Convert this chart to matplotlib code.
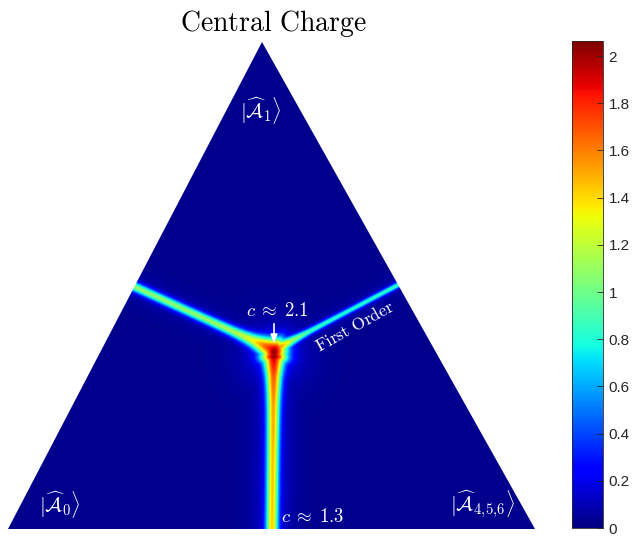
import numpy as np
import matplotlib
matplotlib.use("Agg")
import matplotlib.pyplot as plt
from matplotlib.patches import Polygon

plt.rcParams['mathtext.fontset'] = 'cm'

# triangle corners, normalized (x along base, y up to the apex)
corner_x = [0.0, 1.0, 0.482]
corner_y = [0.0, 0.0, 1.0]

# phase boundary arms: start point (near the junction) and end point on the edge
arm_start_x = [0.5047, 0.5047, 0.5047]
arm_start_y = [0.3676, 0.3676, 0.3634]
arm_end_x = [0.241, 0.740, 0.501]
arm_end_y = [0.497, 0.501, 0.0]

# peak value of c read along each arm, t = 0 at junction, t = 1 at edge
arm_t = [0.0, 0.05, 0.15, 0.3, 0.6, 1.0]
left_peak = [1.8, 1.55, 1.2, 1.05, 1.0, 1.0]
right_peak = [1.7, 1.4, 1.0, 0.8, 0.75, 0.8]
bottom_peak = [1.85, 1.7, 1.52, 1.38, 1.3, 1.27]

# maximum at the junction
junction_x = 0.5047
junction_y = 0.354
junction_peak = 1.85
background = 0.03

vmax = 2.064
cbar_ticks = [0, 0.2, 0.4, 0.6, 0.8, 1.0, 1.2, 1.4, 1.6, 1.8, 2.0]

# pixel scale of the triangle box
W, H = 527, 487
nx, ny = W, H
X, Y = np.meshgrid((np.arange(nx) + 0.5) / nx, (np.arange(ny) + 0.5) / ny)


def arm_field(i, peaks, sigma0, widen, halo_amp, halo_sigma):
    sx, sy = arm_start_x[i] * W, arm_start_y[i] * H
    ex, ey = arm_end_x[i] * W, arm_end_y[i] * H
    vx, vy = ex - sx, ey - sy
    L2 = vx * vx + vy * vy
    px, py = X * W - sx, Y * H - sy
    t = np.clip((px * vx + py * vy) / L2, 0, 1)
    d2 = (px - t * vx) ** 2 + (py - t * vy) ** 2
    amp = np.interp(t, arm_t, peaks)
    sig = sigma0 * (1 + widen * np.exp(-t / 0.12))
    core = amp * np.exp(-d2 / (2 * sig ** 2))
    halo = halo_amp * np.exp(-d2 / (2 * halo_sigma ** 2))
    return core, halo


cl, hl = arm_field(0, left_peak, 3.4, 1.7, 0.05, 10)
cr, hr = arm_field(1, right_peak, 2.1, 1.9, 0.04, 8)
cb, hb = arm_field(2, bottom_peak, 4.3, 1.0, 0.12, 14)

dj2 = ((X - junction_x) * W) ** 2 / (2 * 9.0 ** 2) + ((Y - junction_y) * H) ** 2 / (2 * 5.5 ** 2)
cj = junction_peak * np.exp(-dj2)
hj = 0.15 * np.exp(-(((X - junction_x) * W) ** 2 + ((Y - junction_y) * H) ** 2) / (2 * 24 ** 2))

field = background + np.maximum.reduce([cl, cr, cb, cj]) + np.maximum.reduce([hl, hr, hb, hj])
field = np.clip(field, 0, vmax)

fig = plt.figure(figsize=(6.36, 5.36), dpi=100)
ax = fig.add_axes([8 / 636, 7 / 536, 527 / 636, 487 / 536])
ax.set_xlim(0, 1)
ax.set_ylim(0, 1)
ax.axis('off')

im = ax.imshow(field, origin='lower', extent=[0, 1, 0, 1], cmap='jet',
               vmin=0, vmax=vmax, aspect='auto', interpolation='bilinear')
tri = Polygon(list(zip(corner_x, corner_y)), closed=True, transform=ax.transData,
              facecolor='none', edgecolor='none')
ax.add_patch(tri)
im.set_clip_path(tri)


# labels inside the triangle (pixel positions converted to axes coords)
def pos(px, py):
    return (px - 8) / 527, (529 - py) / 487


fs = 15
ax.text(*pos(261, 110), r'$|\widehat{\mathcal{A}}_1\rangle$', color='white', fontsize=fs,
        ha='center', va='center')
ax.text(*pos(60, 505), r'$|\widehat{\mathcal{A}}_0\rangle$', color='white', fontsize=fs,
        ha='center', va='center')
ax.text(*pos(483, 505), r'$|\widehat{\mathcal{A}}_{4,\!5,\!6}\rangle$', color='white', fontsize=fs,
        ha='center', va='center')
ax.text(*pos(277, 310), r'$c\;\approx\;2.1$', color='white', fontsize=13.5,
        ha='center', va='center')
ax.text(*pos(313, 517), r'$c\;\approx\;1.3$', color='white', fontsize=13.5,
        ha='center', va='center')
ax.text(*pos(355, 327), r'$\mathrm{First\ Order}$', color='white', fontsize=12.5,
        ha='center', va='center', rotation=29, rotation_mode='anchor')
ax.annotate('', xy=pos(274, 346), xytext=pos(274, 321),
            arrowprops=dict(arrowstyle='-|>,head_length=0.5,head_width=0.2',
                            color='white', lw=1.2))

fig.text(273 / 636, 1 - 31 / 536, r'$\mathrm{Central\ Charge}$', fontsize=20,
         ha='center', va='baseline')

cax = fig.add_axes([572 / 636, 8 / 536, 31 / 636, 487 / 536])
cb_ = fig.colorbar(im, cax=cax, ticks=cbar_ticks)
cb_.ax.set_yticklabels(['%g' % v for v in cbar_ticks])
cb_.ax.tick_params(direction='in', length=4, width=0.6, color='#262626',
                   labelsize=11, pad=4)
for lab in cb_.ax.get_yticklabels():
    lab.set_family('Liberation Sans')
    lab.set_color('#262626')
cb_.outline.set_linewidth(0.6)
cb_.outline.set_edgecolor('#262626')

fig.savefig('out.png', dpi=100)
